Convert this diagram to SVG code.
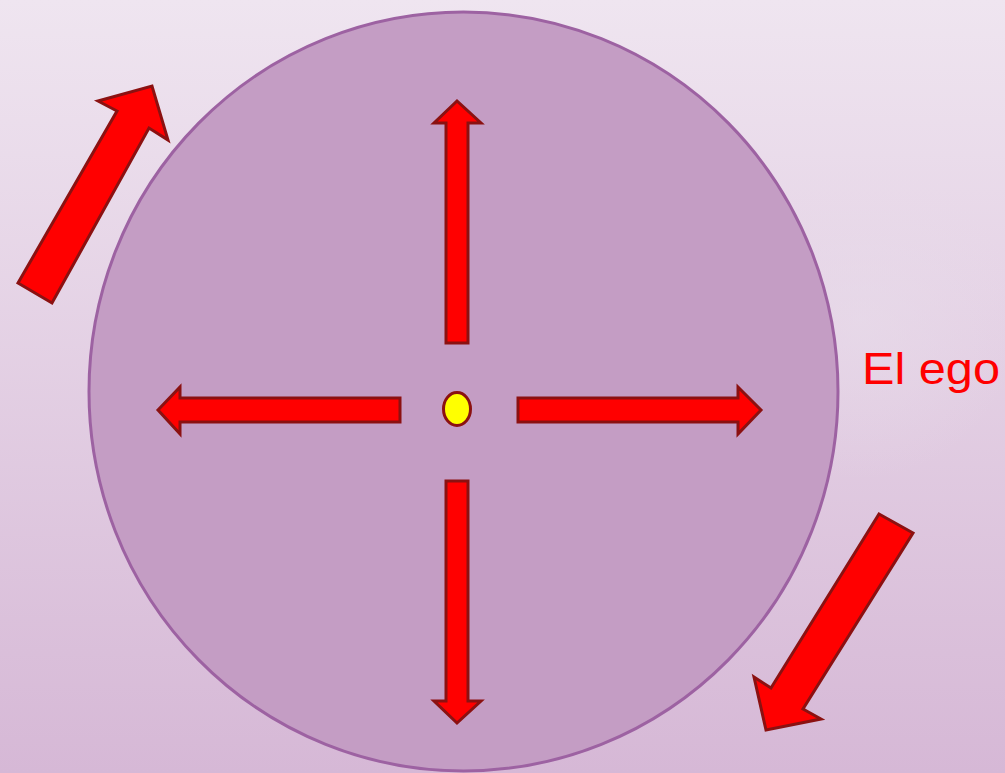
<svg xmlns="http://www.w3.org/2000/svg" width="1005" height="773" viewBox="0 0 1005 773">
  <defs>
    <linearGradient id="bg" x1="0" y1="0" x2="0" y2="1">
      <stop offset="0" stop-color="#EFE5F0"/>
      <stop offset="1" stop-color="#D6B8D6"/>
    </linearGradient>
    <radialGradient id="glow" cx="860" cy="320" r="160" gradientUnits="userSpaceOnUse">
      <stop offset="0" stop-color="#E8DCEA" stop-opacity="0.6"/>
      <stop offset="1" stop-color="#E8DCEA" stop-opacity="0"/>
    </radialGradient>
  </defs>
  <style>
    .arrow { fill: #FF0000; stroke: #8B1111; stroke-width: 3; stroke-linejoin: miter; }
    .label { font-family: "Liberation Sans", "DejaVu Sans", sans-serif; font-size: 44px; fill: #FF0000; }
  </style>
  <rect x="0" y="0" width="1005" height="773" fill="url(#bg)"/>
  <rect x="0" y="0" width="1005" height="773" fill="url(#glow)"/>

  <g id="circle">
    <ellipse cx="463.5" cy="391.5" rx="374.5" ry="379.5" fill="#C49DC4" stroke="#9D62A2" stroke-width="3"/>
  </g>

  <g id="connectors">
    <polygon id="arrow-up" class="arrow" points="446,343 446,123 434,123 457,101 481,123 468,123 468,343"/>
    <polygon id="arrow-down" class="arrow" points="446,481 468,481 468,701 481,701 457,723 434,701 446,701"/>
    <polygon id="arrow-left" class="arrow" points="400,398 180,398 180,387 158,410 180,434 180,422 400,422"/>
    <polygon id="arrow-right" class="arrow" points="518,398 738,398 738,387 761,410 738,434 738,422 518,422"/>
    <polygon id="arrow-diag-up" class="arrow" points="18,283 117,111 98,101 152,86 168,140 149,128 52,303"/>
    <polygon id="arrow-diag-down" class="arrow" points="879,514 913,533 803,709 821,719 766,730 754,677 771,688"/>
  </g>

  <g id="center-dot">
    <ellipse cx="457" cy="409" rx="13.5" ry="16.5" fill="#FFFF00" stroke="#8B1111" stroke-width="3"/>
  </g>

  <g id="label-ego">
    <text class="label" x="862" y="384" textLength="138" lengthAdjust="spacingAndGlyphs">El ego</text>
  </g>
</svg>
